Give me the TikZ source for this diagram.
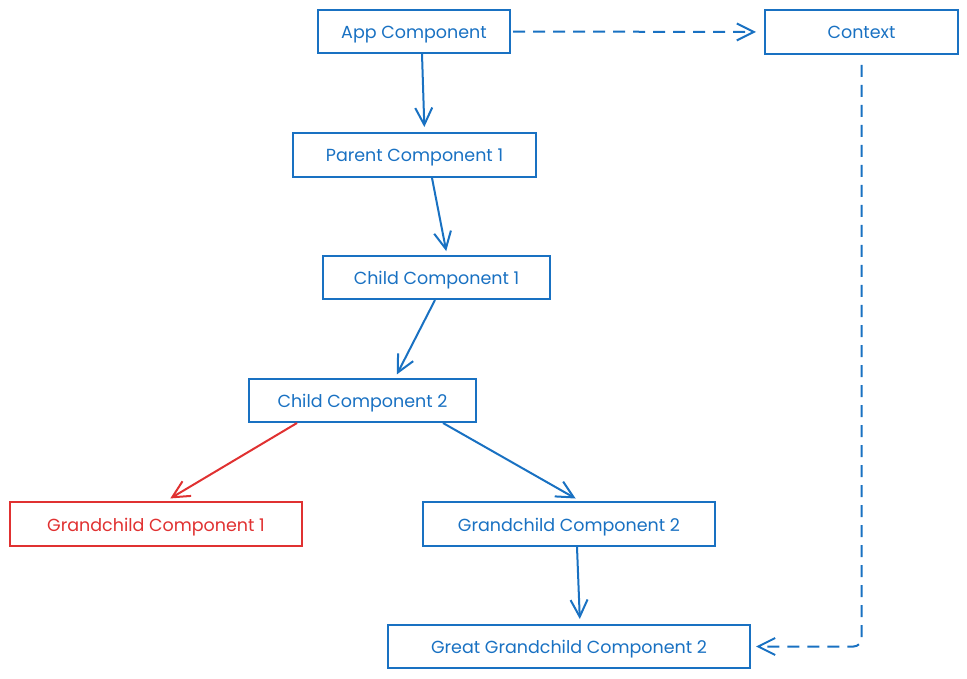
\documentclass[tikz,border=0pt]{standalone}
\usepackage{fontspec}
\setmainfont{Poppins}
\usetikzlibrary{arrows.meta,calc}
\definecolor{eblue}{HTML}{1971C2}
\definecolor{ered}{HTML}{E03131}
\tikzset{
  box/.style={draw=eblue, text=eblue, line width=2pt, inner sep=0pt, text height=14pt, text depth=0pt, font=\fontsize{17.5}{20}\selectfont},
  redbox/.style={box, draw=ered, text=ered},
  conn/.style={draw=eblue, line width=2pt, -{Straight Barb[length=17pt,width=17pt,line width=2pt]}},
  redconn/.style={conn, draw=ered},
  dconn/.style={conn, dash pattern=on 12pt off 8pt},
}
\begin{document}
\begin{tikzpicture}[x=1pt,y=-1pt]
\useasboundingbox (0,0) rectangle (967,679);
\node[box, minimum width=192pt, minimum height=43pt] (app) at (414,31.5) {App Component};
\node[box, minimum width=193pt, minimum height=44pt] (ctx) at (861.5,32) {Context};
\node[box, minimum width=243pt, minimum height=44pt] (par) at (414.5,155) {Parent Component 1};
\node[box, minimum width=227pt, minimum height=43pt] (c1) at (436.5,277.5) {Child Component 1};
\node[box, minimum width=227pt, minimum height=43pt] (c2) at (362.5,400.5) {Child Component 2};
\node[redbox, minimum width=292pt, minimum height=44pt] (gc1) at (156,524) {Grandchild Component 1};
\node[box, minimum width=292pt, minimum height=44pt] (gc2) at (569,524) {Grandchild Component 2};
\node[box, minimum width=362pt, minimum height=43pt] (ggc) at (569,646.5) {Great Grandchild Component 2};

\draw[conn, shorten >=5pt] ([xshift=8pt]app.south) -- ([xshift=10pt]par.north);
\draw[conn, shorten >=4pt] ([xshift=17.5pt]par.south) -- ([xshift=10.5pt]c1.north);
\draw[conn, shorten >=4pt] ([xshift=-1.5pt]c1.south) -- ([xshift=32.5pt]c2.north);
\draw[redconn, shorten >=5pt] ([xshift=-65.5pt]c2.south) -- ([xshift=10pt]gc1.north);
\draw[conn, shorten >=5pt] ([xshift=80.5pt]c2.south) -- ([xshift=11pt]gc2.north);
\draw[conn, shorten >=5pt] ([xshift=8pt]gc2.south) -- ([xshift=11pt]ggc.north);
\draw[dconn, shorten <=2pt, shorten >=8pt] (app.east) -- (ctx.west);
\draw[dconn, rounded corners=8pt, shorten <=10pt, shorten >=5pt] (ctx.south) |- (ggc.east);
\end{tikzpicture}
\end{document}
